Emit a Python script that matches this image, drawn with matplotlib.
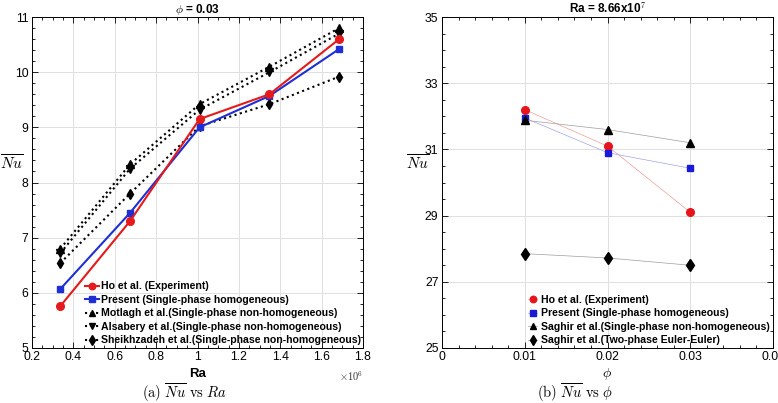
import matplotlib
matplotlib.use("Agg")
import matplotlib.pyplot as plt
from matplotlib.ticker import MultipleLocator, FuncFormatter, FixedLocator

plt.rcParams['font.family'] = ['Liberation Sans', 'DejaVu Sans']
plt.rcParams['mathtext.fontset'] = 'cm'

# ---- data (a) ----
ra = [0.337e6, 0.674e6, 1.01e6, 1.348e6, 1.685e6]
nu_ho = [5.76, 7.30, 9.15, 9.60, 10.60]
nu_present = [6.07, 7.45, 9.00, 9.57, 10.42]
nu_motlagh = [6.80, 8.33, 9.42, 10.10, 10.80]
nu_alsabery = [6.72, 8.25, 9.32, 10.00, 10.70]
nu_sheikh = [6.54, 7.80, 9.02, 9.42, 9.92]

# ---- data (b) ----
phi = [0.01, 0.02, 0.03]
b_ho = [32.20, 31.10, 29.10]
b_present = [31.95, 30.90, 30.43]
b_saghir_sp = [31.88, 31.60, 31.20]
b_saghir_tp = [27.85, 27.72, 27.50]

labels_a = ['Ho et al. (Experiment)', 'Present (Single-phase homogeneous)',
            'Motlagh et al.(Single-phase non-homogeneous)',
            'Alsabery et al.(Single-phase non-homogeneous)',
            'Sheikhzadeh et al.(Single-phase non-homogeneous)']
labels_b = ['Ho et al. (Experiment)', 'Present (Single-phase homogeneous)',
            'Saghir et al.(Single-phase non-homogeneous)',
            'Saghir et al.(Two-phase Euler-Euler)']
yticks_b = [25, 27, 29, 31, 33, 35]

W, H = 778, 403
fig = plt.figure(figsize=(W / 100, H / 100), dpi=100)
ax1 = fig.add_axes([32 / W, 1 - 348 / H, 331 / W, 331 / H])
ax2 = fig.add_axes([442 / W, 1 - 348 / H, 331 / W, 331 / H])


def style(ax):
    ax.tick_params(which='both', direction='in', top=True, right=True, labelsize=8.8, width=0.6)
    ax.tick_params(which='major', length=4, pad=2.5)
    ax.tick_params(which='minor', length=2.2)
    ax.grid(True, which='major', color='#e0e0e0', lw=0.7)
    ax.set_axisbelow(True)
    for s in ax.spines.values():
        s.set_linewidth(0.7)


# (a)
ax1.plot(ra, nu_ho, '-o', color='#e41a1c', lw=1.5, ms=5.5, label=labels_a[0], zorder=5)
ax1.plot(ra, nu_present, '-s', color='#1f2fd6', lw=1.5, ms=5, label=labels_a[1], zorder=4)
ax1.plot(ra, nu_motlagh, ':^', color='black', lw=1.5, ms=5.5, label=labels_a[2])
ax1.plot(ra, nu_alsabery, ':v', color='black', lw=1.5, ms=5.5, label=labels_a[3])
ax1.plot(ra, nu_sheikh, ':d', color='black', lw=1.5, ms=5.5, label=labels_a[4])
ax1.set_xlim(0.2e6, 1.8e6)
ax1.set_ylim(5, 11)
ax1.xaxis.set_major_locator(MultipleLocator(0.2e6))
ax1.xaxis.set_minor_locator(MultipleLocator(0.05e6))
ax1.yaxis.set_major_locator(MultipleLocator(1))
ax1.yaxis.set_minor_locator(MultipleLocator(0.2))
ax1.xaxis.set_major_formatter(FuncFormatter(lambda v, p: '%g' % round(v / 1e6, 3)))
style(ax1)
ax1.set_title(r'$\phi$ = 0.03', fontsize=8.5, fontweight='bold', pad=3)
ax1.set_xlabel('Ra', fontsize=9.5, fontweight='bold', labelpad=3)
ax1.set_ylabel(r'$\overline{Nu}$', fontsize=11, rotation=0)
ax1.yaxis.set_label_coords(-0.062, 0.53)
ax1.text(1.0, -0.064, r'$\times10^{6}$', transform=ax1.transAxes, ha='right', va='top', fontsize=7.5,
         family='DejaVu Sans', color='#333333')
ax1.legend(loc='lower left', bbox_to_anchor=(0.155, 0.003), frameon=False,
           prop={'weight': 'bold', 'size': 7.6}, handlelength=1.3, handletextpad=0.2,
           labelspacing=0.33, borderpad=0.15, borderaxespad=0.0, markerscale=0.85)

# (b)
l = ax2.plot(phi, b_ho, '-o', lw=0.5, ms=5.5, label=labels_b[0])[0]
l.set_color((0.93, 0.62, 0.62)); l.set_markerfacecolor('#e8141c'); l.set_markeredgecolor('#e8141c')
l = ax2.plot(phi, b_present, '-s', lw=0.5, ms=4.5, label=labels_b[1])[0]
l.set_color((0.64, 0.64, 0.9)); l.set_markerfacecolor('#1a1ad6'); l.set_markeredgecolor('#1a1ad6')
l = ax2.plot(phi, b_saghir_sp, '-^', lw=0.5, ms=5.5, label=labels_b[2])[0]
l.set_color((0.62, 0.62, 0.62)); l.set_markerfacecolor('black'); l.set_markeredgecolor('black')
l = ax2.plot(phi, b_saghir_tp, '-d', lw=0.5, ms=6, label=labels_b[3])[0]
l.set_color((0.62, 0.62, 0.62)); l.set_markerfacecolor('black'); l.set_markeredgecolor('black')
ax2.set_xlim(0, 0.04)
ax2.set_ylim(25, 35)
ax2.xaxis.set_major_locator(MultipleLocator(0.01))
ax2.xaxis.set_minor_locator(MultipleLocator(0.002))
ax2.yaxis.set_major_locator(FixedLocator(yticks_b))
ax2.yaxis.set_minor_locator(MultipleLocator(0.5))
ax2.xaxis.set_major_formatter(FuncFormatter(lambda v, p: '%g' % round(v, 4)))
style(ax2)
ax2.set_title(r'Ra = 8.66x10$^{\mathbf{7}}$', fontsize=8.5, fontweight='bold', pad=3)
ax2.set_xlabel(r'$\phi$', fontsize=10, labelpad=2)
ax2.set_ylabel(r'$\overline{Nu}$', fontsize=11, rotation=0)
ax2.yaxis.set_label_coords(-0.075, 0.53)
ax2.legend(loc='lower left', bbox_to_anchor=(0.255, 0.003), frameon=False,
           prop={'weight': 'bold', 'size': 7.6}, handlelength=0.9, handletextpad=0.3,
           labelspacing=0.33, borderpad=0.15, borderaxespad=0.0, markerscale=0.85)

# captions
fig.text(185 / W, 1 - 392.5 / H, r'$\mathrm{(a)}\ \overline{Nu}\ \mathrm{vs}\ Ra$', ha='center', va='center', fontsize=10.5)
fig.text(575 / W, 1 - 392.5 / H, r'$\mathrm{(b)}\ \overline{Nu}\ \mathrm{vs}\ \phi$', ha='center', va='center', fontsize=10.5)

fig.savefig('out.png', dpi=100)
